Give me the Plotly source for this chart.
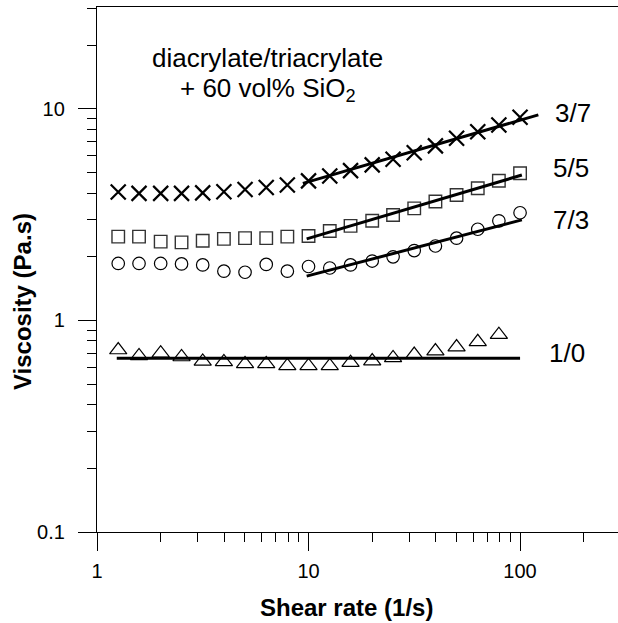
import plotly.graph_objects as go

# Shear rates (1/s), ten points per decade
shear_rate = [1.26, 1.58, 2.0, 2.51, 3.16, 3.98, 5.01, 6.31, 7.94, 10.0,
              12.6, 15.8, 20.0, 25.1, 31.6, 39.8, 50.1, 63.1, 79.4, 100.0]

# Viscosity (Pa.s) for each diacrylate/triacrylate ratio
visc_37 = [4.05, 3.99, 3.99, 3.99, 4.01, 4.06, 4.16, 4.25, 4.37, 4.57,
           4.82, 5.11, 5.44, 5.78, 6.21, 6.69, 7.27, 7.81, 8.40, 9.14]
visc_55 = [2.49, 2.49, 2.36, 2.34, 2.38, 2.43, 2.45, 2.45, 2.49, 2.51,
           2.65, 2.80, 2.96, 3.15, 3.39, 3.65, 3.92, 4.22, 4.58, 4.97]
visc_73 = [1.86, 1.86, 1.86, 1.85, 1.83, 1.71, 1.69, 1.84, 1.71, 1.80,
           1.77, 1.83, 1.91, 2.00, 2.14, 2.25, 2.45, 2.70, 2.96, 3.23]
shear_rate_10 = shear_rate[:19]
visc_10 = [0.725, 0.68, 0.70, 0.672, 0.64, 0.637, 0.623, 0.623, 0.61, 0.61,
           0.61, 0.632, 0.643, 0.665, 0.69, 0.717, 0.749, 0.793, 0.857]

# Power-law fit lines (end points)
fit_37_x, fit_37_y = [9.4, 122.0], [4.45, 9.37]
fit_55_x, fit_55_y = [9.8, 102.0], [2.43, 4.87]
fit_73_x, fit_73_y = [9.8, 102.0], [1.62, 2.99]
fit_10_x, fit_10_y = [1.24, 100.0], [0.663, 0.663]

series_labels = ["3/7", "5/5", "7/3", "1/0"]

x_major = [1, 10, 100]
x_major_text = ["1", "10", "100"]
x_minor = [2, 3, 4, 5, 6, 7, 8, 9, 20, 30, 40, 50, 60, 70, 80, 90, 200]
y_major = [0.1, 1, 10]
y_major_text = ["0.1", "1", "10"]
y_minor = [0.2, 0.3, 0.4, 0.5, 0.6, 0.7, 0.8, 0.9,
           2, 3, 4, 5, 6, 7, 8, 9, 20, 30]

W, H = 618, 623
ML, MR, MT, MB = 97, 0, 7, 91
FONT = "Arial, Liberation Sans, sans-serif"


def px(xp, yp):
    """Convert a pixel position in the figure to paper coordinates."""
    return (xp - ML) / (W - ML - MR), (H - MB - yp) / (H - MT - MB)


fig = go.Figure()

fig.add_trace(go.Scatter(
    x=shear_rate, y=visc_37, mode="markers",
    marker=dict(symbol="x-thin-open", size=15, color="black",
                line=dict(color="black", width=2.2)),
    showlegend=False))
fig.add_trace(go.Scatter(
    x=shear_rate, y=visc_55, mode="markers",
    marker=dict(symbol="square-open", size=12.5, color="#333333",
                line=dict(color="#333333", width=1.4)),
    showlegend=False))
fig.add_trace(go.Scatter(
    x=shear_rate, y=visc_73, mode="markers",
    marker=dict(symbol="circle-open", size=12.5, color="black",
                line=dict(color="black", width=1.2)),
    showlegend=False))
fig.add_trace(go.Scatter(
    x=shear_rate_10, y=visc_10, mode="markers",
    marker=dict(symbol="triangle-up-open", size=15, color="black",
                line=dict(color="black", width=1.2)),
    showlegend=False))

for fx, fy in [(fit_37_x, fit_37_y), (fit_55_x, fit_55_y),
               (fit_73_x, fit_73_y), (fit_10_x, fit_10_y)]:
    fig.add_trace(go.Scatter(x=fx, y=fy, mode="lines",
                             line=dict(color="black", width=3),
                             showlegend=False, cliponaxis=False))

axis_common = dict(
    type="log", showline=True, linecolor="black", linewidth=1.3,
    ticks="outside", ticklen=18, tickwidth=1.3, tickcolor="black",
    showgrid=False, zeroline=False,
    tickfont=dict(family=FONT, size=20, color="black"),
)

fig.update_xaxes(
    **axis_common, range=[0, 2.463], mirror=True, ticklabelstandoff=3,
    tickmode="array", tickvals=x_major, ticktext=x_major_text,
    minor=dict(ticks="outside", ticklen=9, tickwidth=1.3, tickcolor="black",
               tickvals=x_minor, showgrid=False),
)
fig.update_yaxes(
    **axis_common, range=[-1, 1.482], mirror=False, ticklabelstandoff=9,
    tickmode="array", tickvals=y_major, ticktext=y_major_text,
    minor=dict(ticks="outside", ticklen=9, tickwidth=1.3, tickcolor="black",
               tickvals=y_minor, showgrid=False),
)

annotations = []

# Axis titles
ax, ay = px(346, 607)
annotations.append(dict(x=ax, y=ay, xref="paper", yref="paper",
                        text="<b>Shear rate (1/s)</b>", showarrow=False,
                        font=dict(family=FONT, size=24, color="black"),
                        xanchor="center", yanchor="middle"))
ax, ay = px(22, 302)
annotations.append(dict(x=ax, y=ay, xref="paper", yref="paper",
                        text="<b>Viscosity (Pa.s)</b>", showarrow=False,
                        textangle=-90,
                        font=dict(family=FONT, size=24, color="black"),
                        xanchor="center", yanchor="middle"))

# Sample description
ax, ay = px(267, 58)
annotations.append(dict(x=ax, y=ay, xref="paper", yref="paper",
                        text="diacrylate/triacrylate", showarrow=False,
                        font=dict(family=FONT, size=26, color="black"),
                        xanchor="center", yanchor="middle"))
ax, ay = px(268, 90)
annotations.append(dict(x=ax, y=ay, xref="paper", yref="paper",
                        text="+ 60 vol% SiO<sub>2</sub>",
                        showarrow=False,
                        font=dict(family=FONT, size=26, color="black"),
                        xanchor="center", yanchor="middle"))

# Ratio labels next to each curve
label_pos = [(573, 113), (571, 168), (571, 220), (567, 353)]
for lab, (lx, ly) in zip(series_labels, label_pos):
    ax, ay = px(lx, ly)
    annotations.append(dict(x=ax, y=ay, xref="paper", yref="paper",
                            text=lab, showarrow=False,
                            font=dict(family=FONT, size=26, color="black"),
                            xanchor="center", yanchor="middle"))

fig.update_layout(
    width=W, height=H,
    margin=dict(l=ML, r=MR, t=MT, b=MB, pad=0),
    plot_bgcolor="white", paper_bgcolor="white",
    annotations=annotations,
    font=dict(family=FONT, color="black"),
)

fig.write_html("out.html")
